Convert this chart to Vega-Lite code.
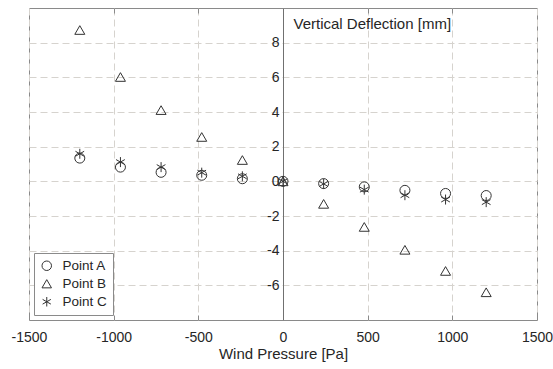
{
  "$schema": "https://vega.github.io/schema/vega-lite/v6.json",
  "autosize": {"type": "none"},
  "width": 508,
  "height": 312,
  "padding": {"left": 29, "top": 8, "right": 16, "bottom": 49},
  "background": "white",
  "config": {
    "font": "Liberation Sans",
    "view": {"stroke": "#8a8a8a", "strokeWidth": 1}
  },
  "data": {"values": [
    {"p": -1200, "d": 1.34, "s": "Point A"},
    {"p": -960, "d": 0.82, "s": "Point A"},
    {"p": -720, "d": 0.52, "s": "Point A"},
    {"p": -480, "d": 0.35, "s": "Point A"},
    {"p": -240, "d": 0.15, "s": "Point A"},
    {"p": 0, "d": 0, "s": "Point A"},
    {"p": 240, "d": -0.13, "s": "Point A"},
    {"p": 480, "d": -0.32, "s": "Point A"},
    {"p": 720, "d": -0.52, "s": "Point A"},
    {"p": 960, "d": -0.70, "s": "Point A"},
    {"p": 1200, "d": -0.82, "s": "Point A"},
    {"p": -1200, "d": 8.73, "s": "Point B"},
    {"p": -960, "d": 6.02, "s": "Point B"},
    {"p": -720, "d": 4.11, "s": "Point B"},
    {"p": -480, "d": 2.56, "s": "Point B"},
    {"p": -240, "d": 1.23, "s": "Point B"},
    {"p": 0, "d": 0, "s": "Point B"},
    {"p": 240, "d": -1.30, "s": "Point B"},
    {"p": 480, "d": -2.63, "s": "Point B"},
    {"p": 720, "d": -3.95, "s": "Point B"},
    {"p": 960, "d": -5.17, "s": "Point B"},
    {"p": 1200, "d": -6.40, "s": "Point B"},
    {"p": -1200, "d": 1.59, "s": "Point C"},
    {"p": -960, "d": 1.11, "s": "Point C"},
    {"p": -720, "d": 0.82, "s": "Point C"},
    {"p": -480, "d": 0.50, "s": "Point C"},
    {"p": -240, "d": 0.29, "s": "Point C"},
    {"p": 0, "d": 0, "s": "Point C"},
    {"p": 240, "d": -0.15, "s": "Point C"},
    {"p": 480, "d": -0.48, "s": "Point C"},
    {"p": 720, "d": -0.80, "s": "Point C"},
    {"p": 960, "d": -1.05, "s": "Point C"},
    {"p": 1200, "d": -1.20, "s": "Point C"}
  ]},
  "layer": [
    {
      "mark": {"type": "point", "filled": false, "stroke": "#3a3a3a", "strokeWidth": 1, "opacity": 0},
      "encoding": {
        "x": {"field": "p", "type": "quantitative", "scale": {"domain": [-1500, 1500], "nice": false},
          "axis": {"orient": "top", "labels": false, "title": null, "grid": false, "domain": false,
            "values": [-1000, -500, 0, 500, 1000], "ticks": true, "tickSize": -5, "tickColor": "#8a8a8a"}}
      }
    },
    {
      "mark": {"type": "point", "filled": false, "stroke": "#333333", "strokeWidth": 1, "opacity": 1, "size": 100},
      "encoding": {
        "x": {"field": "p", "type": "quantitative", "scale": {"domain": [-1500, 1500], "nice": false},
          "axis": {"orient": "bottom", "title": "Wind Pressure [Pa]", "values": [-1500, -1000, -500, 0, 500, 1000, 1500],
            "labelExpr": "'' + datum.value",
            "grid": true, "gridDash": [7, 4], "gridColor": "#d6d3ce", "gridWidth": 1,
            "domain": false, "ticks": true, "tickSize": -5, "tickColor": "#8a8a8a",
            "labelFontSize": 14, "labelColor": "#262626", "labelPadding": 26, "labelBaseline": "alphabetic",
            "labelFlush": false, "labelOverlap": false,
            "titleFontSize": 15, "titleFontWeight": "normal", "titleColor": "#262626",
            "titleBaseline": "alphabetic", "titleY": 38}},
        "y": {"field": "d", "type": "quantitative", "scale": {"domain": [-8, 10], "nice": false, "zero": false},
          "axis": {"orient": "left", "offset": -254, "values": [-6, -4, -2, 0, 2, 4, 6, 8],
            "labelExpr": "'' + datum.value",
            "title": "Vertical Deflection [mm]", "titleAngle": 0, "titleAlign": "left", "titleBaseline": "alphabetic",
            "titleX": 10, "titleY": 20, "titleFontSize": 15, "titleFontWeight": "normal", "titleColor": "#262626",
            "grid": true, "gridDash": [7, 4], "gridColor": "#d6d3ce", "gridWidth": 1,
            "domain": true, "domainColor": "#707070", "ticks": false, "labelPadding": 4,
            "labelFontSize": 14, "labelColor": "#262626", "labelFlush": false}},
        "shape": {"field": "s", "type": "nominal",
          "scale": {"domain": ["Point A", "Point B", "Point C"],
            "range": ["circle", "triangle-up", "M0,-1L0,1M-0.87,-0.5L0.87,0.5M-0.87,0.5L0.87,-0.5"]},
          "legend": {"title": null, "orient": "bottom-left", "offset": 5, "padding": 6,
            "strokeColor": "#8a8a8a", "fillColor": "white", "labelFontSize": 13.5, "labelColor": "#262626",
            "symbolStrokeColor": "#333333", "symbolFillColor": "transparent", "symbolStrokeWidth": 1,
            "symbolSize": 90, "rowPadding": 3, "labelOffset": 9}}
      }
    }
  ],
  "resolve": {"axis": {"x": "independent"}}
}
